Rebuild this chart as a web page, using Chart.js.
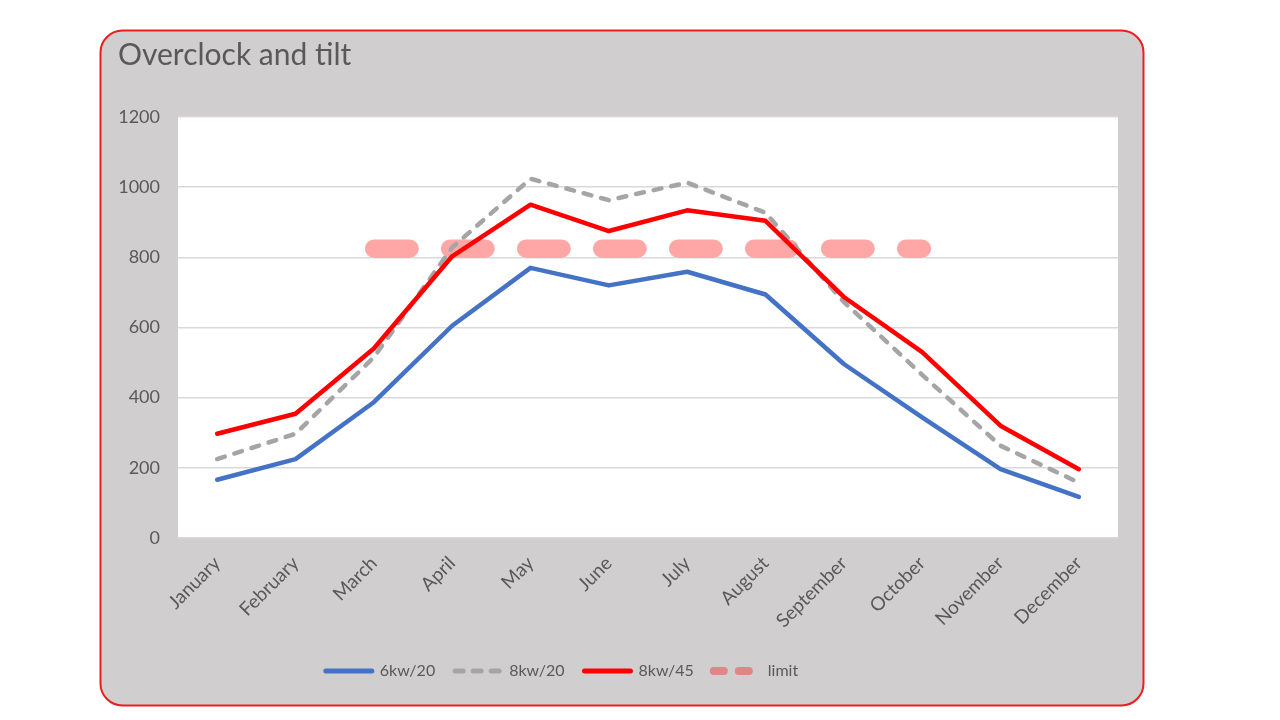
<!DOCTYPE html>
<html>
<head>
<meta charset="utf-8">
<script src="https://cdn.jsdelivr.net/npm/chart.js@4"></script>
<style>
  html, body { margin: 0; padding: 0; background: #ffffff; }
  #wrap { width: 1280px; height: 720px; }
</style>
</head>
<body>
<div id="wrap"><canvas id="c" width="1280" height="720"></canvas></div>
<script>
const months = ["January","February","March","April","May","June","July","August","September","October","November","December"];
const kw6_20 = [166, 225, 387, 605, 770, 720, 759, 694, 496, 344, 196, 117];
const kw8_20 = [225, 297, 515, 828, 1024, 963, 1013, 927, 673, 465, 263, 158];
const kw8_45 = [297, 354, 540, 803, 950, 875, 934, 904, 687, 530, 320, 196];
const limitVal = [null, null, 825, 825, 825, 825, 825, 825, 825, 825, null, null];
const yTicks = [0, 200, 400, 600, 800, 1000, 1200];
const titleText = "Overclock and tilt";

const FONT = "Lato, 'Open Sans', sans-serif";
const TXT = "#595959";

const framePlugin = {
  id: 'frame',
  beforeDraw(chart) {
    const ctx = chart.ctx;
    const a = chart.chartArea;
    ctx.save();
    ctx.fillStyle = '#ffffff';
    ctx.fillRect(0, 0, chart.width, chart.height);
    const x = 100.5, y = 30.5, w = 1043, h = 675, r = 22;
    ctx.beginPath();
    ctx.moveTo(x + r, y);
    ctx.lineTo(x + w - r, y);
    ctx.arcTo(x + w, y, x + w, y + r, r);
    ctx.lineTo(x + w, y + h - r);
    ctx.arcTo(x + w, y + h, x + w - r, y + h, r);
    ctx.lineTo(x + r, y + h);
    ctx.arcTo(x, y + h, x, y + h - r, r);
    ctx.lineTo(x, y + r);
    ctx.arcTo(x, y, x + r, y, r);
    ctx.closePath();
    ctx.fillStyle = '#d0cece';
    ctx.fill();
    ctx.lineWidth = 2;
    ctx.strokeStyle = '#ee1c1c';
    ctx.stroke();
    ctx.fillStyle = '#ffffff';
    ctx.fillRect(a.left, a.top, a.right - a.left, a.bottom - a.top);
    ctx.fillStyle = TXT;
    ctx.font = "30px " + FONT;
    ctx.textBaseline = 'alphabetic';
    ctx.textAlign = 'left';
    ctx.fillText(titleText, 118, 65);
    ctx.restore();
  },
  afterLayout(chart) {
    const lg = chart.legend;
    if (lg) { lg.left -= 47; lg.right -= 47; }
  }
};

const ctx = document.getElementById('c').getContext('2d');
new Chart(ctx, {
  type: 'line',
  data: {
    labels: months,
    datasets: [
      { label: '6kw/20', data: kw6_20, borderColor: '#4472c4', backgroundColor: '#4472c4', borderWidth: 4.5, pointRadius: 0, order: 3, borderCapStyle: 'round', borderJoinStyle: 'round' },
      { label: '8kw/20', data: kw8_20, borderColor: '#a5a5a5', backgroundColor: '#a5a5a5', borderWidth: 4.5, borderDash: [8, 10], borderCapStyle: 'round', pointRadius: 0, order: 2 },
      { label: '8kw/45', data: kw8_45, borderColor: '#ff0000', backgroundColor: '#ff0000', borderWidth: 4.5, pointRadius: 0, order: 1, borderCapStyle: 'round', borderJoinStyle: 'round' },
      { label: 'limit', data: limitVal, borderColor: 'rgba(255,0,0,0.35)', backgroundColor: 'rgba(255,0,0,0.35)', borderWidth: 18, borderDash: [36, 40], borderCapStyle: 'round', pointRadius: 0, order: 10 }
    ]
  },
  options: {
    responsive: false,
    animation: false,
    devicePixelRatio: 1,
    layout: { padding: { left: 100, right: 162, top: 117, bottom: 31 } },
    plugins: {
      title: { display: false },
      tooltip: { enabled: false },
      legend: {
        display: true,
        position: 'bottom',
        labels: {
          usePointStyle: true,
          pointStyle: 'line',
          pointStyleWidth: 46,
          boxHeight: 16,
          padding: 20,
          color: TXT,
          font: { family: FONT, size: 16 },
          sort: (a, b) => a.datasetIndex - b.datasetIndex,
          generateLabels(chart) {
            const items = Chart.defaults.plugins.legend.labels.generateLabels(chart);
            items.forEach(it => {
              if (it.datasetIndex === 3) {
                it.lineWidth = 8;
                it.lineDash = [10, 15];
                it.lineCap = 'round';
                it.strokeStyle = 'rgba(255,0,0,0.35)';
              } else if (it.datasetIndex === 1) {
                it.lineWidth = 5;
                it.lineDash = [8, 10];
                it.lineCap = 'round';
              } else {
                it.lineWidth = 5;
                it.lineCap = 'round';
                it.lineDash = [];
              }
              it.pointStyle = 'line';
            });
            return items;
          }
        }
      }
    },
    scales: {
      x: {
        offset: true,
        grid: { display: false },
        border: { display: false },
        ticks: { minRotation: 45, maxRotation: 45, color: TXT, font: { family: FONT, size: 19 }, padding: 6 },
        afterFit(axis) { axis.height = 105; }
      },
      y: {
        min: 0,
        max: 1200,
        afterBuildTicks(axis) { axis.ticks = yTicks.map(v => ({ value: v })); },
        grid: { color: '#d9d9d9', lineWidth: 1.5, drawTicks: false },
        border: { display: false },
        ticks: { color: TXT, font: { family: FONT, size: 18 }, padding: 18, callback: (v) => String(v) },
        afterFit(axis) { axis.width = 78; }
      }
    }
  },
  plugins: [framePlugin]
});
</script>
</body>
</html>
